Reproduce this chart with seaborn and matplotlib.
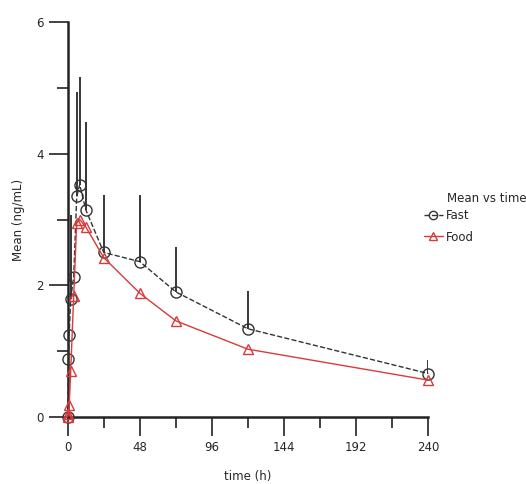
import numpy as np
import pandas as pd
import seaborn as sns
import matplotlib.pyplot as plt
from matplotlib.lines import Line2D
from matplotlib.ticker import MultipleLocator

# sampling times (h)
time = [0, 0.5, 1, 2, 4, 6, 8, 12, 24, 48, 72, 120, 240]
fast_mean = [0, 0.88, 1.25, 1.80, 2.13, 3.35, 3.53, 3.15, 2.50, 2.36, 1.90, 1.34, 0.66]
fast_sd = [0, 0, 0, 1.27, 0, 1.59, 1.64, 1.33, 0.87, 1.01, 0.68, 0.57, 0.21]
food_mean = [0, 0.05, 0.18, 0.70, 1.84, 2.95, 3.00, 2.89, 2.42, 1.88, 1.46, 1.03, 0.56]

x_ticks = [0, 48, 96, 144, 192, 240]
y_ticks = [0, 2, 4, 6]

sns.set_style("white")
plt.rcParams['font.family'] = ['DejaVu Sans']

fast = pd.DataFrame({"time": time, "mean": fast_mean, "sd": fast_sd})
food = pd.DataFrame({"time": time, "mean": food_mean})

fig = plt.figure(figsize=(5.26, 4.84), dpi=100)
ax = fig.add_axes([0.1287, 0.1384, 0.8143 - 0.1287, 0.9545 - 0.1384])

# upper error bars for Fast
ax.vlines(fast["time"], fast["mean"], fast["mean"] + fast["sd"], color="black", lw=1.1, zorder=2)

red = "#d93a3a"
sns.lineplot(data=fast, x="time", y="mean", ax=ax, color="#333333", linestyle="--", lw=1,
             marker="o", markersize=8, markerfacecolor="none", markeredgecolor="#333333",
             markeredgewidth=1, clip_on=False, zorder=3)
sns.lineplot(data=food, x="time", y="mean", ax=ax, color=red, lw=1,
             marker="^", markersize=7.5, markerfacecolor="none", markeredgecolor=red,
             markeredgewidth=1, clip_on=False, zorder=3)

ax.set_xlim(0, 240)
ax.set_ylim(0, 6)
ax.set_xticks(x_ticks)
ax.set_yticks(y_ticks)
ax.xaxis.set_minor_locator(MultipleLocator(24))
ax.yaxis.set_minor_locator(MultipleLocator(1))
ax.tick_params(which="major", direction="out", length=14, width=1.2, color="#222222",
               labelsize=8.5, pad=3, bottom=True, left=True)
ax.tick_params(which="minor", direction="out", length=8, width=1.2, color="#222222",
               bottom=True, left=True)

for s in ["top", "right"]:
    ax.spines[s].set_visible(False)
for s in ["left", "bottom"]:
    ax.spines[s].set_linewidth(1.8)
    ax.spines[s].set_color("#222222")

ax.set_xlabel("time (h)", fontsize=8.5, labelpad=12)
ax.set_ylabel("Mean (ng/mL)", fontsize=8.5, labelpad=8)

handles = [
    Line2D([], [], color="#333333", ls="--", lw=1, marker="o", markersize=6,
           markerfacecolor="none", markeredgecolor="#333333"),
    Line2D([], [], color=red, lw=1, marker="^", markersize=6,
           markerfacecolor="none", markeredgecolor=red),
]
fig.text(447 / 526, 1 - 198 / 484, "Mean vs time", fontsize=8.5, ha="left", va="center")
leg = fig.legend(handles, ["Fast", "Food"], loc="upper left",
                 bbox_to_anchor=(0.797, 1 - 204 / 484), frameon=False, fontsize=8.5,
                 handlelength=1.6, handletextpad=0.3, borderaxespad=0,
                 labelspacing=0.75, markerfirst=True)

fig.savefig("out.png", dpi=100)
